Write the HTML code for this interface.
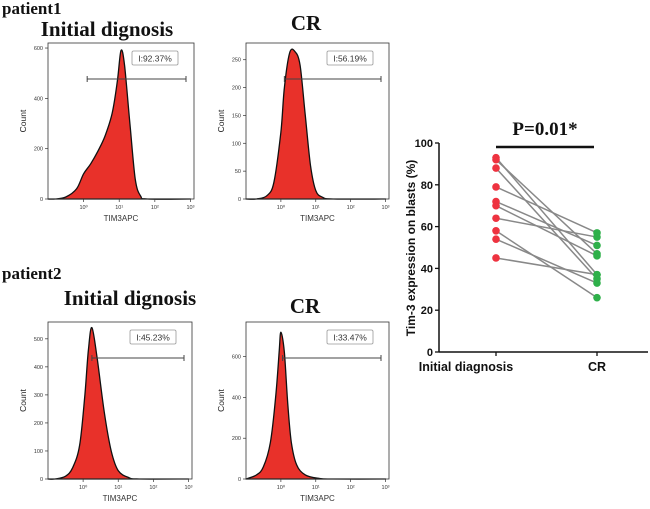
<!DOCTYPE html>
<html><head><meta charset="utf-8">
<style>
body{margin:0;background:#fff;width:650px;height:509px;overflow:hidden}
svg{display:block}
.t{font-family:"Liberation Serif",serif;font-weight:bold;fill:#111}
.s{font-family:"Liberation Sans",sans-serif}
</style></head><body>
<svg id="fig" width="650" height="509">
<text class="t" x="2" y="14" font-size="17">patient1</text>
<text class="t" x="107" y="36" font-size="21" text-anchor="middle">Initial dignosis</text>
<text class="t" x="306" y="30" font-size="21" text-anchor="middle">CR</text>
<text class="t" x="2" y="279" font-size="17">patient2</text>
<text class="t" x="130" y="305" font-size="21" text-anchor="middle">Initial dignosis</text>
<text class="t" x="305" y="313" font-size="21" text-anchor="middle">CR</text>
<g id="hists"></g>
<g id="pair"></g>
</svg>
<script>
// histogram data (log10 intensity, count)
const h1x=[-1,-0.8,-0.5,-0.2,0,0.2,0.4,0.6,0.8,0.95,1.05,1.15,1.3,1.45,1.6,1.8,3];
const h1y=[0,0,8,40,100,140,190,250,340,470,590,530,300,80,12,0,0];
const h2x=[-1,-0.7,-0.4,-0.2,0,0.1,0.25,0.4,0.55,0.7,0.85,1.0,1.2,1.5,3];
const h2y=[0,0,6,30,120,200,262,265,240,150,60,15,3,0,0];
const h3x=[-1,-0.8,-0.5,-0.3,-0.1,0.05,0.15,0.25,0.4,0.6,0.8,1.0,1.3,1.6,3];
const h3y=[0,0,10,40,120,300,460,540,430,240,100,30,5,0,0];
const h4x=[-1,-0.7,-0.5,-0.3,-0.15,-0.05,0,0.1,0.2,0.3,0.45,0.7,1.1,1.5,3];
const h4y=[0,20,60,180,400,620,720,620,360,180,70,20,3,0,0];
const gates=["I:92.37%","I:56.19%","I:45.23%","I:33.47%"];
const yticks=[[0,200,400,600],[0,50,100,150,200,250],[0,100,200,300,400,500],[0,200,400,600]];
const ymaxs=[620,280,560,770];
const gateLo=[0.1,0.1,0.25,0.05];
// paired data
const initVals=[93,92,88,79,72,70,64,58,54,45];
const crVals=[37,47,35,57,51,46,55,26,33,37];
const ptick=[0,20,40,60,80,100];
const cats=["Initial diagnosis","CR"];

const NS="http://www.w3.org/2000/svg";
function mk(p,tag,a){const e=document.createElementNS(NS,tag);for(const k in a)e.setAttribute(k,a[k]);p.appendChild(e);return e;}
function smooth(pts){
  let d='';
  for(let i=0;i<pts.length-1;i++){
    const p0=pts[Math.max(0,i-1)],p1=pts[i],p2=pts[i+1],p3=pts[Math.min(pts.length-1,i+2)];
    const c1=[p1[0]+(p2[0]-p0[0])/6,p1[1]+(p2[1]-p0[1])/6];
    const c2=[p2[0]-(p3[0]-p1[0])/6,p2[1]-(p3[1]-p1[1])/6];
    d+=` C${c1[0].toFixed(1)},${c1[1].toFixed(1)} ${c2[0].toFixed(1)},${c2[1].toFixed(1)} ${p2[0].toFixed(1)},${p2[1].toFixed(1)}`;
  }
  return d;
}
const panels=[{l:48,r:194,t:43,b:199},{l:246,r:389,t:43,b:199},{l:48,r:192,t:322,b:479},{l:246,r:389,t:322,b:479}];
const HX=[h1x,h2x,h3x,h4x],HY=[h1y,h2y,h3y,h4y];
const hg=document.getElementById('hists');
panels.forEach((P,i)=>{
  const g=mk(hg,'g',{});
  
  
  const xs=v=>P.l+(v+1)/4.1*(P.r-P.l);
  const ys=v=>Math.min(P.b,P.b-v/ymaxs[i]*(P.b-P.t));
  const pts=HX[i].map((x,j)=>[xs(x),ys(HY[i][j])]);
  let d='M'+pts[0][0]+','+pts[0][1]+smooth(pts)+' L'+pts[pts.length-1][0]+','+P.b+' L'+pts[0][0]+','+P.b+'Z';
  const area=mk(g,'path',{d:d,fill:'#e8312a',stroke:'#111','stroke-width':1.3,'stroke-linejoin':'round'});
  
  
  mk(g,'rect',{x:P.l,y:P.t,width:P.r-P.l,height:P.b-P.t,fill:'none',stroke:'#333','stroke-width':0.8});
  yticks[i].forEach(v=>{const y=ys(v);mk(g,'line',{x1:P.l-3,x2:P.l,y1:y,y2:y,stroke:'#333','stroke-width':0.7});
    const t=mk(g,'text',{x:P.l-5,y:y+2,'font-size':5.5,'text-anchor':'end',class:'s',fill:'#333'});t.textContent=v;});
  for(let e=0;e<=3;e++){const x=xs(e);mk(g,'line',{x1:x,x2:x,y1:P.b,y2:P.b+3,stroke:'#333','stroke-width':0.7});
    const t=mk(g,'text',{x:x,y:P.b+10,'font-size':5.5,'text-anchor':'middle',class:'s',fill:'#333'});t.textContent='10'+['⁰','¹','²','³'][e];}
  const xl=mk(g,'text',{x:(P.l+P.r)/2,y:P.b+22,'font-size':8,'text-anchor':'middle',class:'s',fill:'#333'});xl.textContent='TIM3APC';
  
  const cy=(P.t+P.b)/2;
  const yl=mk(g,'text',{x:P.l-22,y:cy,'font-size':8.5,'text-anchor':'middle',class:'s',fill:'#222',transform:`rotate(-90 ${P.l-22} ${cy})`});yl.textContent='Count';
  
  const gy=P.t+36,gx1=xs(gateLo[i]),gx2=P.r-8;
  mk(g,'path',{d:`M${gx1},${gy}H${gx2}M${gx1},${gy-3}V${gy+3}M${gx2},${gy-3}V${gy+3}`,stroke:'#444','stroke-width':1,fill:'none'});
  const bx=P.r-62;
  mk(g,'rect',{x:bx,y:P.t+8,width:46,height:14,fill:'#fff',stroke:'#999','stroke-width':0.8,rx:1.5});
  const gt=mk(g,'text',{x:bx+23,y:P.t+18.5,'font-size':8.5,'text-anchor':'middle',class:'s',fill:'#333'});gt.textContent=gates[i];
  
});
// paired chart
const pg=document.getElementById('pair');
const L=439,B=352,T=143,R=648;
const py=v=>B-v/100*(B-T);
const cx=[496,597];
mk(pg,'line',{x1:L,x2:L,y1:T,y2:B,stroke:'#111','stroke-width':1.5});
mk(pg,'line',{x1:L,x2:R,y1:B,y2:B,stroke:'#111','stroke-width':1.5});
ptick.forEach(v=>{mk(pg,'line',{x1:L-4,x2:L,y1:py(v),y2:py(v),stroke:'#111','stroke-width':1.3});
  const t=mk(pg,'text',{x:L-6,y:py(v)+4,'font-size':11,'font-weight':'bold','text-anchor':'end',class:'s',fill:'#111'});t.textContent=v;});
cats.forEach((c,i)=>{mk(pg,'line',{x1:cx[i],x2:cx[i],y1:B,y2:B+4,stroke:'#111','stroke-width':1.3});
  const t=mk(pg,'text',{x:i?cx[i]:466,y:B+19,'font-size':12.5,'font-weight':'bold','text-anchor':'middle',class:'s',fill:'#111'});t.textContent=c;
  });
const yt=mk(pg,'text',{x:415,y:248,'font-size':12,'font-weight':'bold','text-anchor':'middle',class:'s',fill:'#111',transform:'rotate(-90 415 248)'});
yt.textContent='Tim-3 expression on blasts (%)';

initVals.forEach((v,i)=>{const l=mk(pg,'line',{x1:cx[0],y1:py(v),x2:cx[1],y2:py(crVals[i]),stroke:'#888','stroke-width':1.5});
  });
initVals.forEach(v=>{const c=mk(pg,'circle',{cx:cx[0],cy:py(v),r:3.8,fill:'#ee3340'});
  });
crVals.forEach(v=>{const c=mk(pg,'circle',{cx:cx[1],cy:py(v),r:3.8,fill:'#2fb04a'});
  });
mk(pg,'line',{x1:496,x2:594,y1:147,y2:147,stroke:'#111','stroke-width':2.5});
const pt=mk(pg,'text',{x:545,y:135,'font-size':19,'text-anchor':'middle',class:'t'});pt.textContent='P=0.01*';

</script>
</body></html>
